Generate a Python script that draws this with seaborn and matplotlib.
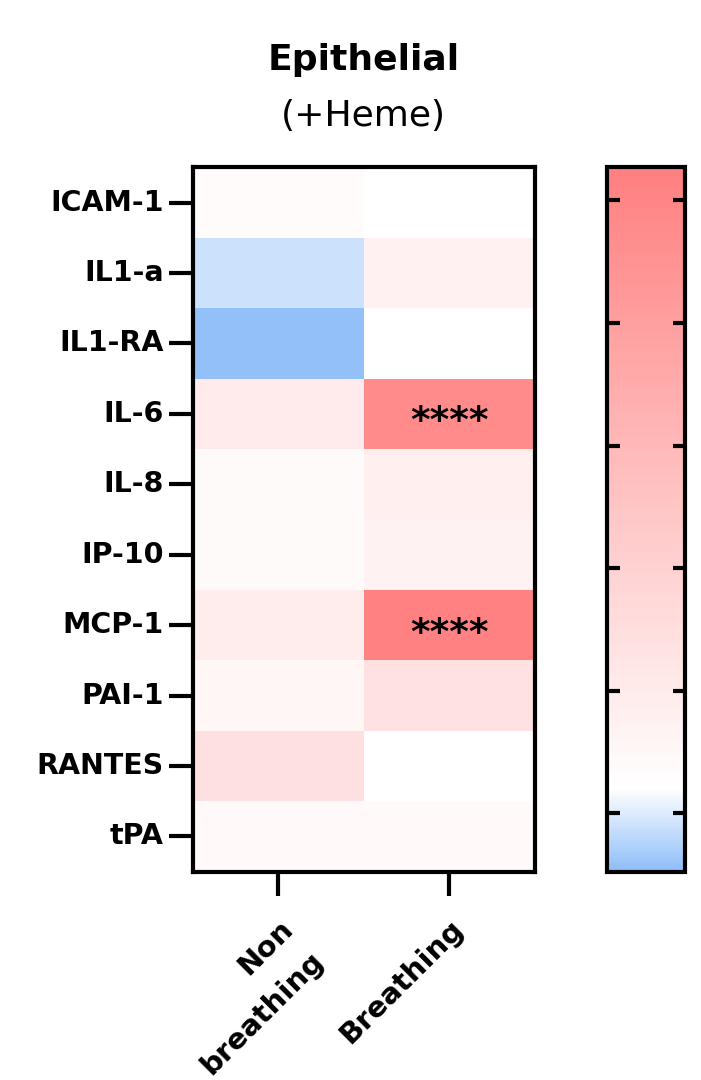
import numpy as np
import pandas as pd
import matplotlib
matplotlib.use('Agg')
import matplotlib.pyplot as plt
from matplotlib.colors import LinearSegmentedColormap, Normalize
import seaborn as sns

# values (colour scale has no labels, ticks at 0..5)
cytokines = ['ICAM-1', 'IL1-a', 'IL1-RA', 'IL-6', 'IL-8', 'IP-10', 'MCP-1', 'PAI-1', 'RANTES', 'tPA']
conditions = ['Non\nbreathing', 'Breathing']
non_breathing = [0.36, -0.10, -0.45, 1.00, 0.40, 0.40, 0.96, 0.56, 1.44, 0.44]
breathing = [0.22, 0.76, 0.20, 4.79, 0.84, 0.72, 5.20, 1.40, 0.20, 0.44]
sig_non_breathing = ['', '', '', '', '', '', '', '', '', '']
sig_breathing = ['', '', '', '****', '', '', '****', '', '', '']
cbar_ticks = [0, 1, 2, 3, 4, 5]

vmin, vwhite, vmax = -0.475, 0.2, 5.27

sns.set_style('ticks')
plt.rcParams['font.family'] = ['DejaVu Sans']
plt.rcParams['text.color'] = 'black'
plt.rcParams['xtick.color'] = 'black'
plt.rcParams['ytick.color'] = 'black'

df = pd.DataFrame({conditions[0]: non_breathing, conditions[1]: breathing}, index=cytokines)
annot = np.array([sig_non_breathing, sig_breathing]).T

wpos = (vwhite - vmin) / (vmax - vmin)
cmap = LinearSegmentedColormap.from_list('bwr_prism', [(0.0, '#8fbef8'), (wpos, '#ffffff'), (1.0, '#ff7f7f')])
norm = Normalize(vmin=vmin, vmax=vmax)

fig = plt.figure(figsize=(7.01, 10.8), dpi=100)
ax = fig.add_axes([0.275, 0.193, 0.488, 0.652])
cax = fig.add_axes([0.866, 0.193, 0.111, 0.652])

sns.heatmap(df, ax=ax, cbar_ax=cax, cmap=cmap, norm=norm, annot=annot, fmt='',
            annot_kws={'fontsize': 27, 'fontweight': 'bold', 'color': 'black'},
            linewidths=0)

# asterisks sit high in the glyph box, nudge them down to the cell centre
for t in ax.texts:
    x, y = t.get_position()
    t.set_position((x, y + 0.12))

for s in ax.spines.values():
    s.set_visible(True)
    s.set_linewidth(3)
    s.set_color('black')

ax.tick_params(axis='both', left=True, right=False, bottom=True, direction='out',
               length=17, width=3, pad=4, color='black')
ax.tick_params(axis='x', pad=14)
ax.set_yticklabels(cytokines, rotation=0, fontsize=20.5, fontweight='bold')
ax.set_xticklabels(conditions, rotation=45, ha='right', rotation_mode='anchor',
                   fontsize=21, fontweight='bold', linespacing=1.75)
ax.set_xlabel('')
ax.set_ylabel('')

cb = ax.collections[0].colorbar
cb.outline.set_visible(True)
cb.outline.set_linewidth(3)
cb.outline.set_edgecolor('black')
cb.set_ticks(cbar_ticks)
# seaborn puts the axis below the artists; inward ticks must sit on top of the colours
cax.set_axisbelow(False)
cax.yaxis.set_ticks_position('both')
cax.tick_params(axis='y', which='major', left=True, right=True, direction='in',
                length=9, width=3, labelleft=False, labelright=False, color='black')

mid = (0.275 + 0.275 + 0.488) / 2
fig.text(mid, 0.944, 'Epithelial', ha='center', va='center', fontsize=26, fontweight='bold')
fig.text(mid, 0.893, '(+Heme)', ha='center', va='center', fontsize=26)

fig.savefig('out.png', dpi=100)
